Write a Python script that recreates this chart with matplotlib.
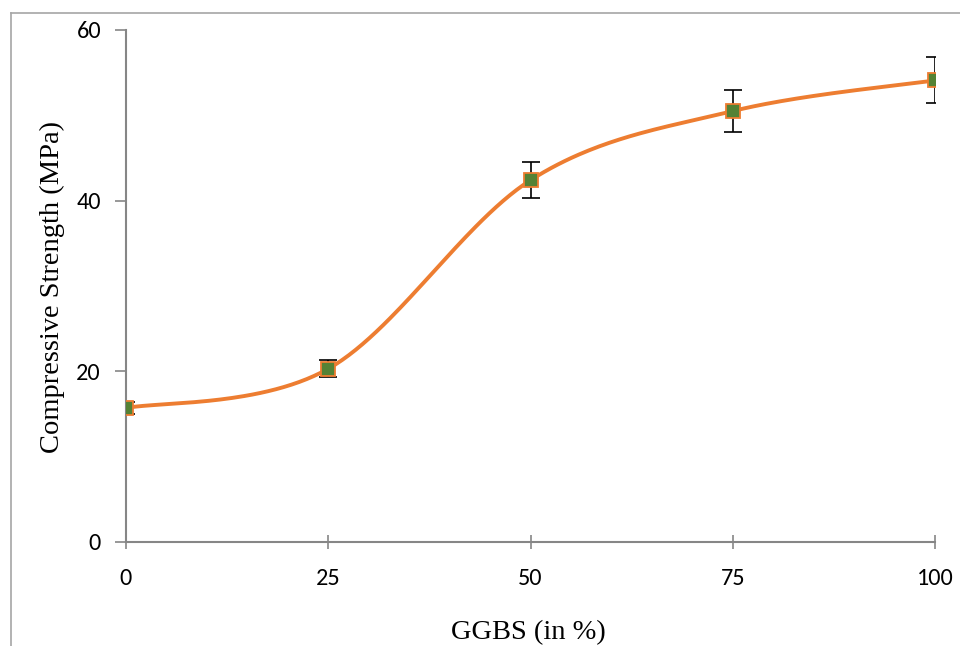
import numpy as np
import matplotlib
matplotlib.use("Agg")
import matplotlib.pyplot as plt
from matplotlib.lines import Line2D

ggbs = [0, 25, 50, 75, 100]
strength = [15.7, 20.3, 42.4, 50.5, 54.1]
err = [0.7, 1.0, 2.1, 2.5, 2.7]
yticks = [0, 20, 40, 60]
xticks = [0, 25, 50, 75, 100]

def excel_smooth(x, y, n=60):
    x = np.asarray(x, float); y = np.asarray(y, float)
    px = np.concatenate([[x[0]], x, [x[-1]]])
    py = np.concatenate([[y[0]], y, [y[-1]]])
    xs, ys = [], []
    t = np.linspace(0, 1, n)
    for i in range(1, len(px) - 2):
        p0 = np.array([px[i], py[i]]); p3 = np.array([px[i+1], py[i+1]])
        p1 = p0 + (np.array([px[i+1], py[i+1]]) - np.array([px[i-1], py[i-1]])) / 6
        p2 = p3 - (np.array([px[i+2], py[i+2]]) - np.array([px[i], py[i]])) / 6
        b = ((1-t)**3)[:, None]*p0 + (3*(1-t)**2*t)[:, None]*p1 + (3*(1-t)*t**2)[:, None]*p2 + (t**3)[:, None]*p3
        xs.append(b[:, 0]); ys.append(b[:, 1])
    return np.concatenate(xs), np.concatenate(ys)

fig = plt.figure(figsize=(9.6, 6.46), dpi=100)
W, H = 960, 646
ax = fig.add_axes([126/W, 1-542/H, (935-126)/W, (542-30)/H])

sx, sy = excel_smooth(ggbs, strength)
ax.plot(sx, sy, color="#ED7D31", lw=2.8, zorder=2, solid_capstyle="round")
ax.errorbar(ggbs, strength, yerr=err, fmt="none", ecolor="black", elinewidth=1.2,
            capsize=6.5, capthick=1.2, zorder=3)
ax.plot(ggbs, strength, linestyle="none", marker="s", markersize=10,
        markerfacecolor="#548235", markeredgecolor="#ED7D31", markeredgewidth=1.3, zorder=4)

ax.set_xlim(0, 100)
ax.set_ylim(0, 60)
ax.set_xticks(xticks)
ax.set_yticks(yticks)
tickfont = {"family": ["Carlito", "Lato", "DejaVu Sans"], "size": 17.5}
ax.set_xticklabels([str(v) for v in xticks], fontdict=tickfont)
ax.set_yticklabels([str(v) for v in yticks], fontdict=tickfont)
for s in ["top", "right"]:
    ax.spines[s].set_visible(False)
for s in ["left", "bottom"]:
    ax.spines[s].set_color("#868686")
    ax.spines[s].set_linewidth(1.5)
ax.tick_params(axis="x", direction="inout", length=10, width=1.2, color="#868686", pad=14)
ax.tick_params(axis="y", direction="out", length=8, width=1.2, color="#868686", pad=10)

fig.text(528/W, 1-633/H, "GGBS (in %)", ha="center", va="center",
         family="Liberation Serif", fontsize=20.5)
fig.text(52/W, 1-287/H, "Compressive Strength (MPa)", ha="center", va="center",
         rotation=90, family="Liberation Serif", fontsize=20.5)

fig.add_artist(Line2D([11/W, 11/W], [0, 1-13/H], transform=fig.transFigure,
                      color="#A6A6A6", lw=1.2))
fig.add_artist(Line2D([11/W, 1], [1-13/H, 1-13/H], transform=fig.transFigure,
                      color="#A6A6A6", lw=1.2))

fig.savefig("out.png", dpi=100)
